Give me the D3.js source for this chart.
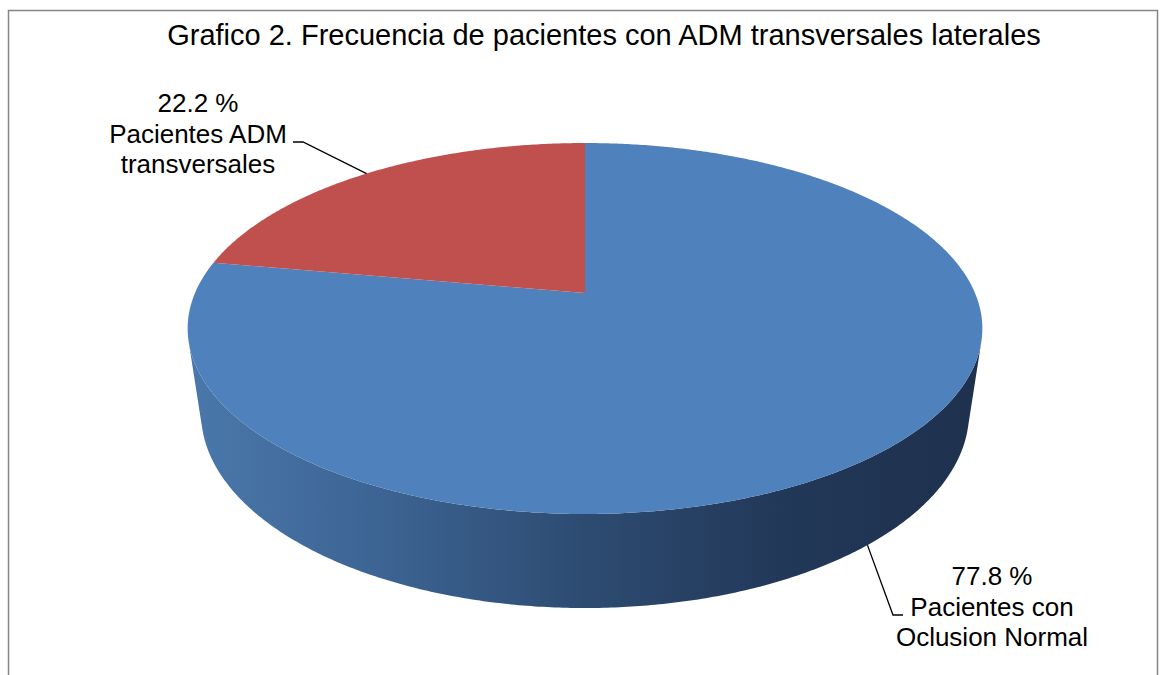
<!DOCTYPE html>
<html>
<head>
<meta charset="utf-8">
<script src="https://cdn.jsdelivr.net/npm/d3@7"></script>
<style>
  html, body { margin: 0; padding: 0; background: #fff; }
  svg text { font-family: "Liberation Sans", Arial, sans-serif; fill: #000; }
</style>
</head>
<body>
<div id="chart"></div>
<script>
// chart data
const categories = ["Pacientes con Oclusion Normal", "Pacientes ADM transversales"];
const values = [77.8, 22.2];
const labelLines = [["77.8 %", "Pacientes con", "Oclusion Normal"], ["22.2 %", "Pacientes ADM", "transversales"]];
const sliceColors = ["#4f81bd", "#c0504d"];
const chartTitle = "Grafico 2. Frecuencia de pacientes con ADM transversales laterales";

const width = 1162, height = 675;

// perspective settings for the 3d disc (fitted to the picture)
const persp = { cx: 585, cy: 293, a: 390, b: 178.7, d: 86.6, k: -0.1914, m: 0.0335 };

// project angle (clockwise from 12 o'clock) and depth (0 top, 1 bottom) to screen
function project(theta, z) {
    let u = Math.sin(theta), v = -Math.cos(theta);
    let w = 1 + persp.k * v + persp.m * z;
    return [persp.cx + persp.a * u / w, persp.cy + (persp.b * v + persp.d * z) / w];
}

const svg = d3.select("#chart")
    .append("svg")
    .attr("width", width)
    .attr("height", height);

// chart border
svg.append("rect")
    .attr("x", 8.5)
    .attr("y", 10.5)
    .attr("width", 1149)
    .attr("height", 700)
    .attr("fill", "#fff")
    .attr("stroke", "#868686")
    .attr("stroke-width", 1.5);

svg.append("text")
    .attr("x", 604)
    .attr("y", 45)
    .attr("text-anchor", "middle")
    .attr("font-size", 29)
    .text(chartTitle);

// side gradient (lighter on the left, dark on the right)
const defs = svg.append("defs");
const grad = defs.append("linearGradient")
    .attr("id", "sideGrad")
    .attr("gradientUnits", "userSpaceOnUse")
    .attr("x1", 188).attr("x2", 983)
    .attr("y1", 0).attr("y2", 0);
grad.selectAll("stop")
    .data([[0, "#4a78ab"], [0.25, "#3c6392"], [0.5, "#2d4b71"], [0.75, "#223858"], [1, "#1e314d"]])
    .enter()
    .append("stop")
    .attr("offset", d => d[0])
    .attr("stop-color", d => d[1]);

const pie = d3.pie().sort(null).value(d => d);
const arcs = pie(values);

// side wall of a slice: only the quads facing the viewer, merged in one path
const frontQuad = [project(Math.PI - 0.01, 0), project(Math.PI + 0.01, 0), project(Math.PI + 0.01, 1), project(Math.PI - 0.01, 1)];
const frontSign = Math.sign(d3.polygonArea(frontQuad));

function sidePath(a) {
    let n = Math.max(2, Math.ceil((a.endAngle - a.startAngle) / (Math.PI / 360)));
    let d = "";
    for (let j = 0; j < n; j++) {
        let t0 = a.startAngle + (a.endAngle - a.startAngle) * j / n;
        let t1 = a.startAngle + (a.endAngle - a.startAngle) * (j + 1) / n;
        let q = [project(t0, 0), project(t1, 0), project(t1, 1), project(t0, 1)];
        if (Math.sign(d3.polygonArea(q)) === frontSign) {
            d += "M" + q.join("L") + "Z";
        }
    }
    return d;
}

// back slices first
let sideOrder = arcs.map((a, i) => ({ a: a, i: i, depth: -Math.cos((a.startAngle + a.endAngle) / 2) }))
    .sort((p, q) => p.depth - q.depth);

svg.append("g")
    .attr("class", "sides")
    .selectAll("path")
    .data(sideOrder)
    .enter()
    .append("path")
    .attr("d", s => sidePath(s.a))
    .attr("fill", s => s.i === 0 ? "url(#sideGrad)" : d3.color(sliceColors[s.i]).darker(1));

// top faces
function topPath(a) {
    let pts = [[persp.cx, persp.cy]];
    let n = Math.ceil((a.endAngle - a.startAngle) / (Math.PI / 360));
    for (let j = 0; j <= n; j++) {
        pts.push(project(a.startAngle + (a.endAngle - a.startAngle) * j / n, 0));
    }
    return "M" + pts.join("L") + "Z";
}

svg.append("g")
    .attr("class", "tops")
    .selectAll("path")
    .data(arcs)
    .enter()
    .append("path")
    .attr("d", topPath)
    .attr("fill", (d, i) => sliceColors[i]);

// data labels with leader lines
const labelPos = [
    { x: 992, y: 585, elbow: [893, 615], end: [903, 615] },
    { x: 198, y: 112, elbow: [303, 142], end: [293, 142] }
];

const labels = svg.append("g").attr("class", "labels");
arcs.forEach((a, i) => {
    let mid = (a.startAngle + a.endAngle) / 2;
    let z = -Math.cos(mid) > 0 ? 1 : 0;
    let p = project(mid, z);
    let lp = labelPos[i];
    labels.append("path")
        .attr("d", "M" + [p, lp.elbow, lp.end].join("L"))
        .attr("fill", "none")
        .attr("stroke", "#000")
        .attr("stroke-width", 1.3);
    labels.append("text")
        .attr("text-anchor", "middle")
        .attr("font-size", 26)
        .selectAll("tspan")
        .data(labelLines[i])
        .enter()
        .append("tspan")
        .attr("x", lp.x)
        .attr("y", (d, j) => lp.y + j * 30.5)
        .text(d => d);
});
</script>
</body>
</html>
